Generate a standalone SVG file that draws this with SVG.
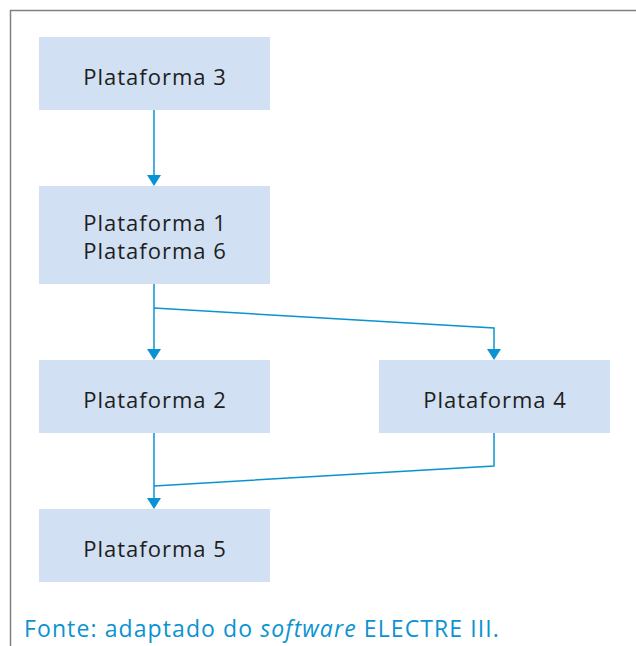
<svg xmlns="http://www.w3.org/2000/svg" width="636" height="646" viewBox="0 0 636 646">
<style>
.box{fill:#d1e0f2}
.lbl{font-family:"Open Sans","Liberation Sans",sans-serif;font-size:22px;letter-spacing:1px;fill:#1e1e1e;text-anchor:middle}
.ln{fill:none;stroke:#0a93d2;stroke-width:1.5}
.ah{fill:#0a93d2}
.src{font-family:"Open Sans","Liberation Sans",sans-serif;font-size:23px;letter-spacing:1.1px;fill:#0a93d2}
</style>
<rect width="636" height="646" fill="#fff"/>
<path d="M10.5,646 V10.5 H636" fill="none" stroke="#808080" stroke-width="1.5"/>
<g id="connectors">
<path class="ln" d="M154,110 V175"/>
<path class="ln" d="M154,284 V349"/>
<path class="ln" d="M154,308 L494,328 V349"/>
<path class="ln" d="M154,433 V498"/>
<path class="ln" d="M494,433 V466 L154,486"/>
<path class="ah" d="M147,175 H161 L154,186 Z"/>
<path class="ah" d="M147,349 H161 L154,360 Z"/>
<path class="ah" d="M487,349 H501 L494,360 Z"/>
<path class="ah" d="M147,498 H161 L154,509 Z"/>
</g>
<g id="p3"><rect class="box" x="39" y="37" width="231" height="73"/><text class="lbl" x="155" y="85">Plataforma 3</text></g>
<g id="p16"><rect class="box" x="39" y="186" width="231" height="98"/><text class="lbl" x="155" y="231">Plataforma 1</text><text class="lbl" x="155" y="259">Plataforma 6</text></g>
<g id="p2"><rect class="box" x="39" y="360" width="231" height="73"/><text class="lbl" x="155" y="408">Plataforma 2</text></g>
<g id="p4"><rect class="box" x="379" y="360" width="231" height="73"/><text class="lbl" x="495" y="408">Plataforma 4</text></g>
<g id="p5"><rect class="box" x="39" y="509" width="231" height="73"/><text class="lbl" x="155" y="557">Plataforma 5</text></g>
<text class="src" x="24" y="637">Fonte: adaptado do <tspan font-style="italic">software</tspan> ELECTRE III.</text>
</svg>
